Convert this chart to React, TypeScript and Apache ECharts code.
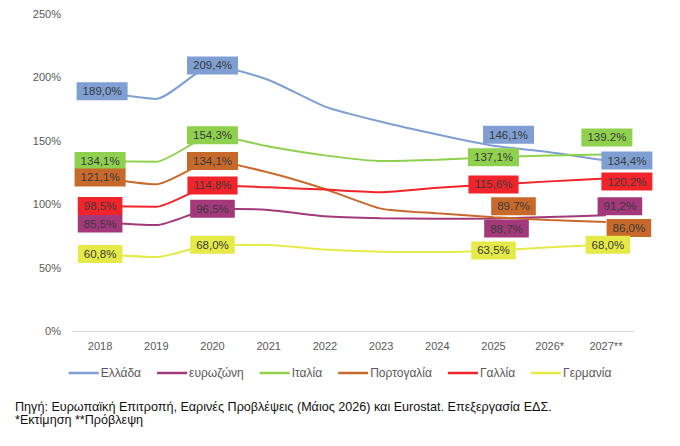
import React, { useEffect, useRef } from "react";
import * as echarts from "echarts";

const years = ["2018", "2019", "2020", "2021", "2022", "2023", "2024", "2025", "2026*", "2027**"];
const greece = [189.0, 183, 209.4, 198, 177, 165, 155, 146.1, 141, 134.4];
const eurozone = [85.5, 83.5, 96.5, 95.5, 90.5, 89, 88.5, 88.7, 90, 91.2];
const italy = [134.1, 133.5, 154.3, 145.5, 138.5, 134, 135, 137.1, 138.5, 139.2];
const portugal = [121.1, 115.7, 134.1, 125, 112, 96.5, 92.8, 89.7, 87.5, 86.0];
const france = [98.5, 98, 114.8, 113.3, 111.5, 109.5, 113, 115.6, 118, 120.2];
const germany = [60.8, 58.3, 68.0, 67.8, 64.2, 62.5, 62.3, 63.5, 66, 68.0];

const labelIdx = [0, 2, 7, 9];
const labelTexts: Record<string, string[]> = {
  "Ελλάδα": ["189,0%", "209,4%", "146,1%", "134,4%"],
  "ευρωζώνη": ["85,5%", "96,5%", "88,7%", "91,2%"],
  "Ιταλία": ["134,1%", "154,3%", "137,1%", "139.2%"],
  "Πορτογαλία": ["121,1%", "134,1%", "89.7%", "86,0%"],
  "Γαλλία": ["98,5%", "114,8%", "115,6%", "120,2%"],
  "Γερμανία": ["60,8%", "68,0%", "63,5%", "68,0%"],
};

const seriesDefs = [
  { name: "Ελλάδα", data: greece, color: "#7f9fd3", offsets: [[2, 0], [0, 0], [15, -11], [21, 0]] },
  { name: "ευρωζώνη", data: eurozone, color: "#a3397a", offsets: [[0, 1], [0, 0], [13, 10], [14, -9]] },
  { name: "Ιταλία", data: italy, color: "#8fd14f", offsets: [[0, 0], [0, 0], [0, 0], [1, -17]] },
  { name: "Πορτογαλία", data: portugal, color: "#c8692c", offsets: [[0, 0], [0, 0], [20, -11], [23, 6]] },
  { name: "Γαλλία", data: france, color: "#f2242b", offsets: [[0, 0], [0, 0], [0, 0], [21, 3]] },
  { name: "Γερμανία", data: germany, color: "#e6ea48", offsets: [[0, 0], [0, 0], [0, 0], [2, 0]] },
];

const FONT = "'Liberation Sans', Arial, sans-serif";

export default function App() {
  const ref = useRef<HTMLDivElement>(null);
  useEffect(() => {
    if (!ref.current) return;
    const chart = echarts.init(ref.current, undefined, { renderer: "svg" });
    const series = seriesDefs.map((s) => ({
      name: s.name,
      type: "line",
      smooth: 0.2,
      symbol: "circle",
      symbolSize: 0,
      showSymbol: true,
      lineStyle: { color: s.color, width: 2 },
      itemStyle: { color: s.color },
      z: 2,
      data: s.data.map((v, i) => {
        const k = labelIdx.indexOf(i);
        if (k < 0) return { value: v, label: { show: false } };
        return {
          value: v,
          label: {
            show: true,
            position: "inside",
            offset: s.offsets[k],
            formatter: labelTexts[s.name][k],
            backgroundColor: s.color,
            color: "#3a3a3a",
            fontSize: 11.5,
            fontFamily: FONT,
            padding: [3, 6, 3, 6],
          },
        };
      }),
    }));
    chart.setOption({
      animation: false,
      textStyle: { fontFamily: FONT },
      grid: { left: 72, right: 46, top: 14, bottom: 115 },
      xAxis: {
        type: "category",
        data: years,
        boundaryGap: true,
        axisLine: { lineStyle: { color: "#d9d9d9", width: 1 } },
        axisTick: { show: false },
        axisLabel: { color: "#595959", fontSize: 11, margin: 9, fontFamily: FONT },
      },
      yAxis: {
        type: "value",
        min: 0,
        max: 250,
        interval: 50,
        splitLine: { show: false },
        axisLine: { show: false },
        axisTick: { show: false },
        axisLabel: { formatter: "{value}%", color: "#595959", fontSize: 11, margin: 11, fontFamily: FONT },
      },
      legend: {
        top: 367,
        left: "center",
        padding: 0,
        icon: "rect",
        itemWidth: 30,
        itemHeight: 2.5,
        itemGap: 16,
        textStyle: { color: "#595959", fontSize: 12, fontFamily: FONT, padding: [0, 0, 0, -3] },
        data: seriesDefs.map((s) => s.name),
      },
      graphic: [
        {
          type: "text",
          left: 15,
          top: 400,
          style: {
            text: "Πηγή: Ευρωπαϊκή Επιτροπή, Εαρινές Προβλέψεις (Μάιος 2026) και Eurostat. Επεξεργασία ΕΔΣ.",
            fill: "#111",
            fontSize: 12.6,
            fontFamily: FONT,
          },
        },
        {
          type: "text",
          left: 15,
          top: 413.5,
          style: { text: "*Εκτίμηση **Πρόβλεψη", fill: "#111", fontSize: 12.6, fontFamily: FONT },
        },
      ],
      series,
    });
    return () => chart.dispose();
  }, []);
  return (
    <div
      ref={ref}
      style={{ position: "absolute", left: 0, top: 0, width: 680, height: 446, background: "#fff" }}
    />
  );
}
